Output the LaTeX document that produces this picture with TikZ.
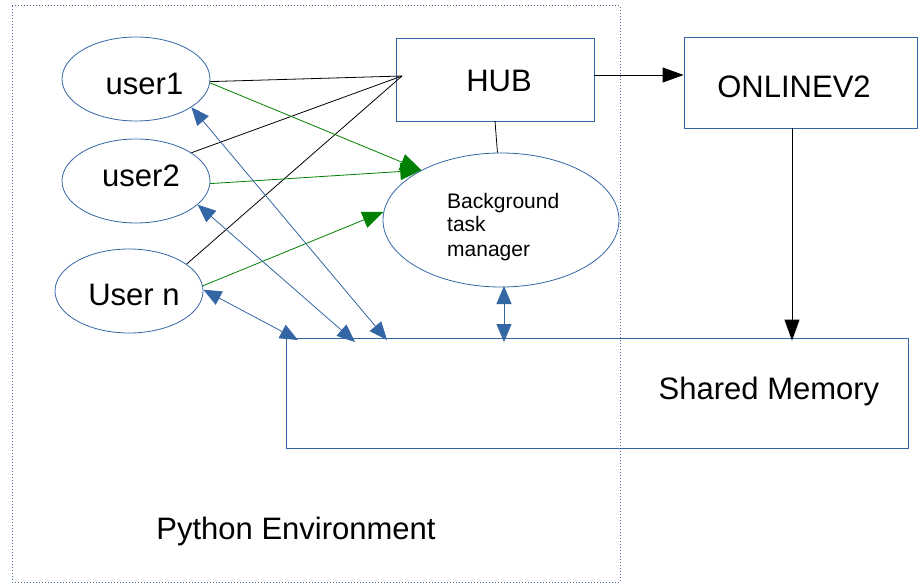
\documentclass[tikz,border=0pt]{standalone}
\usepackage{fontspec}
\setmainfont{Liberation Sans}
\usetikzlibrary{shapes.geometric,arrows.meta}
\definecolor{lblue}{HTML}{3465A4}
\definecolor{frameblue}{HTML}{4A6E98}
\definecolor{lgreen}{HTML}{008000}
\begin{document}
\begin{tikzpicture}[x=1pt,y=-1pt,
  ubox/.style={draw=lblue,line width=0.8pt,ellipse,inner sep=0pt},
  rbox/.style={draw=lblue,line width=0.8pt,rectangle,inner sep=0pt},
  bigtxt/.style={inner sep=0pt,anchor=base,font=\fontsize{31}{36}\selectfont},
  smalltxt/.style={inner sep=0pt,anchor=base west,font=\fontsize{21}{24}\selectfont},
  blk/.style={draw=black,line width=0.8pt},
  blkarrow/.style={draw=black,line width=0.8pt,-{Triangle[length=21pt,width=15pt]}},
  grnarrow/.style={draw=lgreen,line width=0.8pt,-{Triangle[length=21pt,width=17pt]}},
  bluearrow/.style={draw=lblue,line width=0.8pt,{Triangle[length=18pt,width=15pt]}-{Triangle[length=18pt,width=15pt]}}]
\useasboundingbox (0,0) rectangle (919,583);
% frame
\draw[frameblue,dotted,line width=1pt] (12,6) rectangle (620,582);
% nodes
\node[ubox,minimum width=148pt,minimum height=84pt] (u1) at (136,79) {};
\node[ubox,minimum width=148pt,minimum height=84pt] (u2) at (136,181) {};
\node[ubox,minimum width=148pt,minimum height=84pt] (un) at (129,291) {};
\node[bigtxt] (u1t) at (144.5,95) {user1};
\node[bigtxt] (u2t) at (141,187) {user2};
\node[bigtxt] (unt) at (134,305) {User n};
\node[rbox,minimum width=198pt,minimum height=83pt] (hub) at (495,79.5) {};
\node[bigtxt] (hubt) at (499,92) {HUB};
\node[rbox,minimum width=233pt,minimum height=91pt] (onl) at (800.5,82.5) {};
\node[bigtxt] (onlt) at (794,98) {ONLINEV2};
\node[ubox,minimum width=236pt,minimum height=134pt] (btm) at (501,220) {};
\node[smalltxt] (btm1) at (447,208) {Background};
\node[smalltxt] (btm2) at (447,232) {task};
\node[smalltxt] (btm3) at (447,256) {manager};
\node[rbox,minimum width=622pt,minimum height=110pt] (sm) at (597,393) {};
\node[bigtxt] (smt) at (769,399) {Shared Memory};
\node[bigtxt] (pyt) at (296,539) {Python Environment};
% coordinates
\coordinate (hp) at (402,76);
\coordinate (s1) at (387,340);
\coordinate (s2) at (355,342);
\coordinate (s3) at (298,340);
\coordinate (s4) at (504,342);
\coordinate (b4) at (504,286);
\coordinate (ha) at ([yshift=4.5pt]hub.east);
\coordinate (oa) at ([xshift=-8.5pt]onl.south);
% black lines
\draw[blk] (u1.-2) -- (hp);
\draw[blk] (u2.27) -- (hp);
\draw[blk] (un.25) -- (hp);
\draw[blk] (495,121) -- (btm.93);
\draw[blkarrow] (ha) -- (ha -| onl.west);
\draw[blkarrow] (oa) -- ([yshift=-3pt]oa |- sm.north);
% green arrows
\draw[grnarrow] (u1.-3) -- (btm.148);
\draw[grnarrow] (u2.-2) -- (btm.148);
\draw[grnarrow] (un.4) -- (btm.176);
% blue arrows
\draw[bluearrow] (u1.-27) -- (s1);
\draw[bluearrow] (u2.-21) -- (s2);
\draw[bluearrow] (un.1) -- (s3);
\draw[bluearrow] (b4) -- (s4);
\end{tikzpicture}
\end{document}
